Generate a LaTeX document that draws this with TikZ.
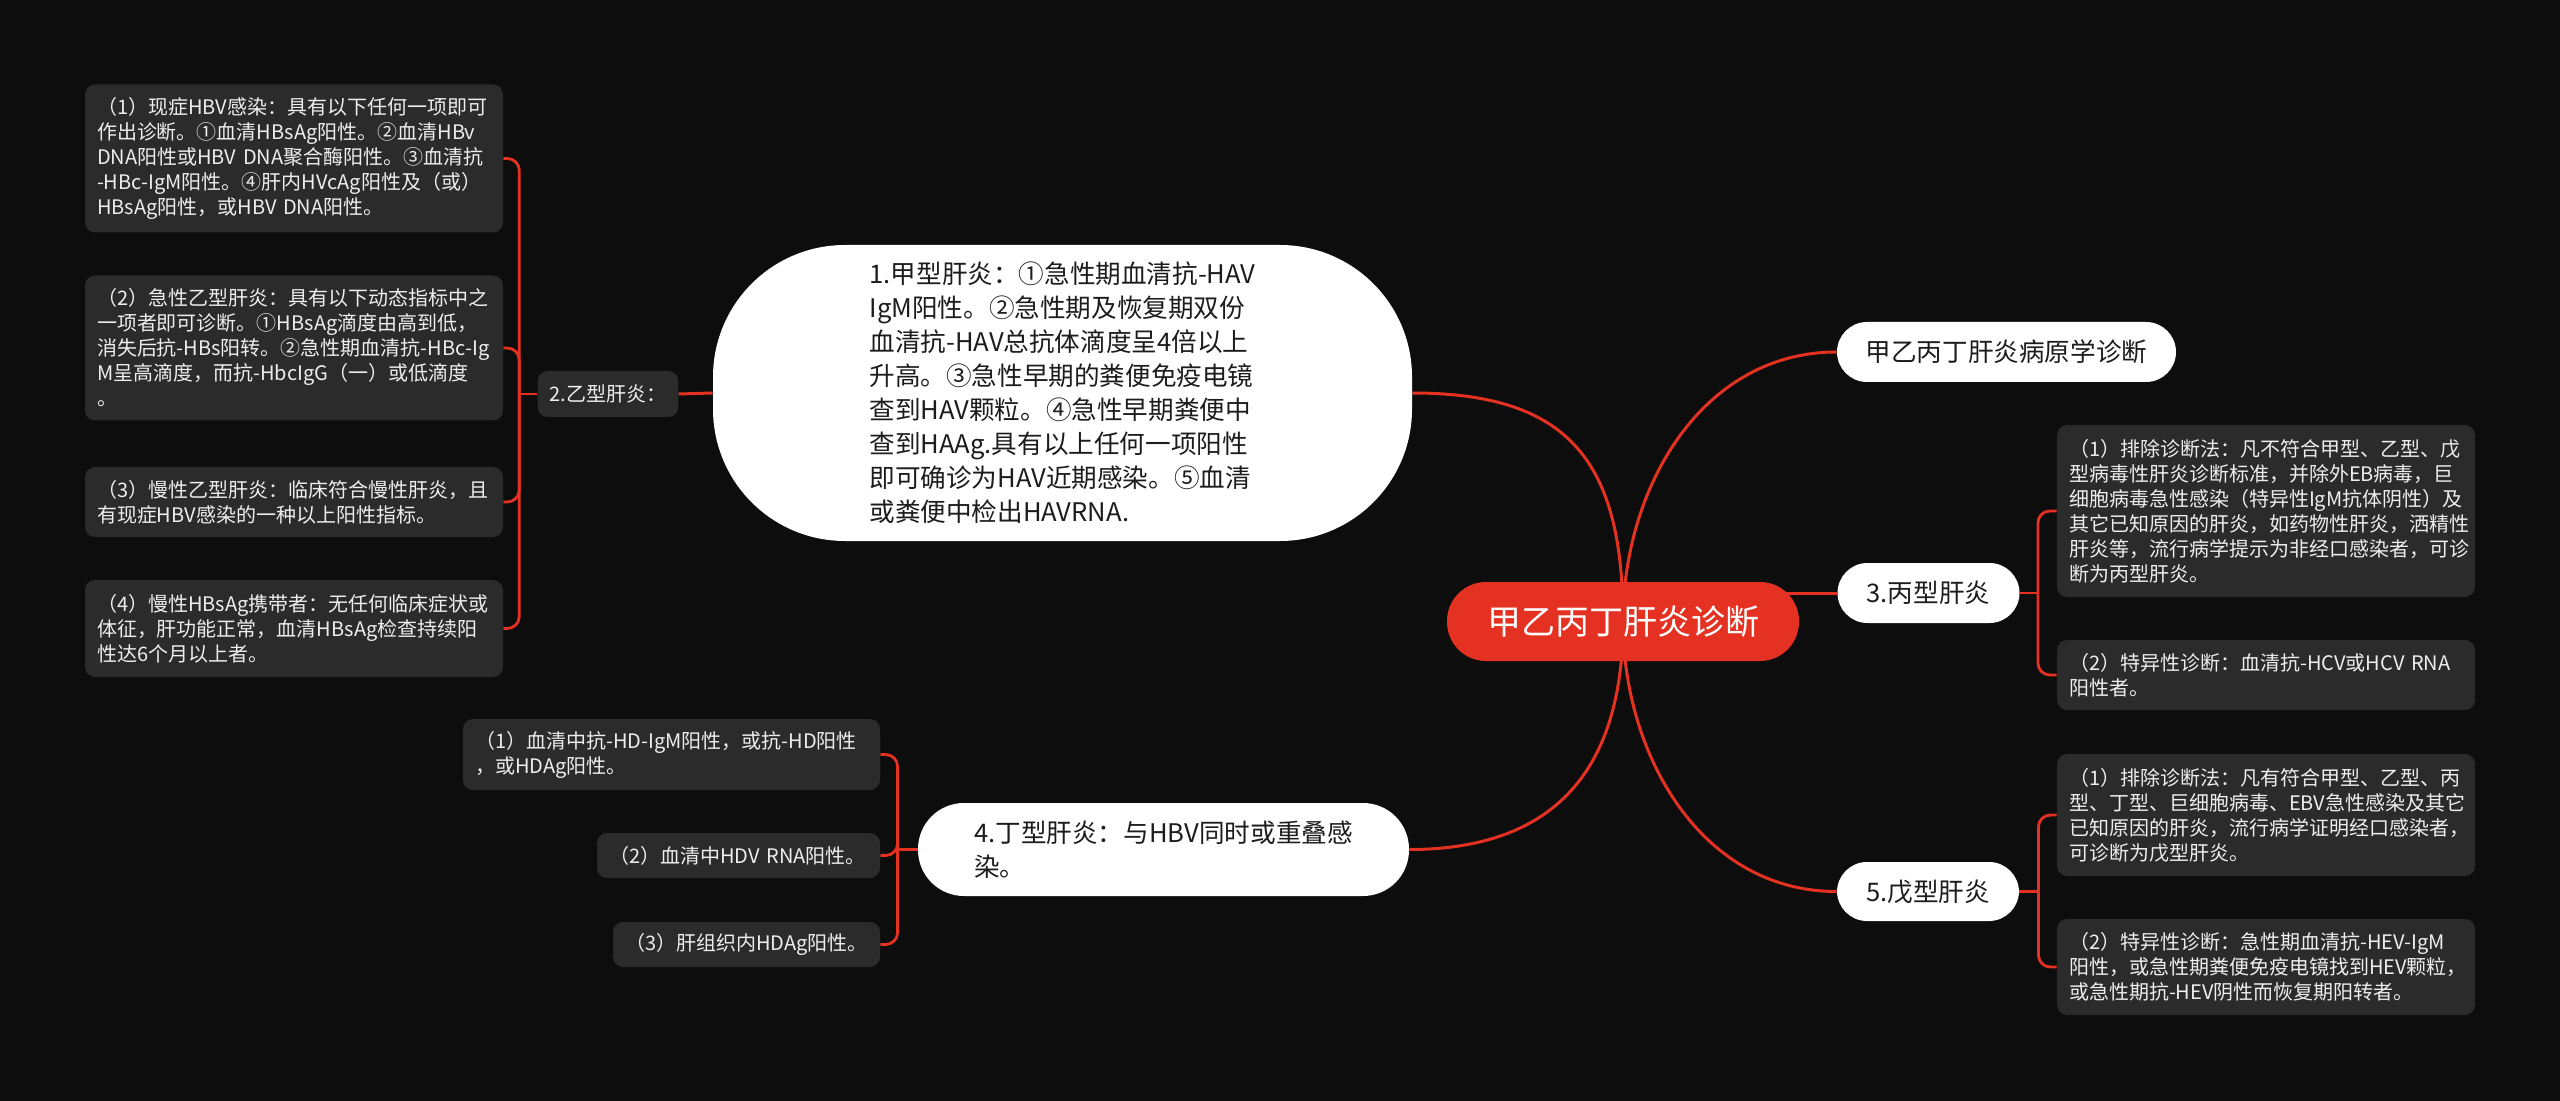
\documentclass[tikz,border=0pt]{standalone}
\usepackage{fontspec}
\setmainfont{Noto Sans CJK SC}
\definecolor{hbg}{RGB}{13,13,13}
\definecolor{hred}{RGB}{228,49,33}
\definecolor{hleaf}{RGB}{43,43,43}
\definecolor{hink}{RGB}{28,28,28}
\definecolor{hpaper}{RGB}{238,238,238}
\pgfdeclarelayer{back}
\pgfdeclarelayer{wires}
\pgfsetlayers{back,wires,main}
\tikzset{
  hub/.style={fill=hred, text=white, rounded corners=19.5pt, inner sep=0pt,
    font=\fontsize{17}{20}\selectfont},
  topic/.style={fill=white, text=hink, inner sep=0pt, align=left,
    font=\fontsize{12.8}{17}\selectfont},
  leaf/.style={fill=hleaf, text=hpaper, rounded corners=5pt, align=left,
    inner xsep=6pt, inner ysep=0pt, font=\fontsize{10}{12.5}\selectfont},
  wire/.style={hred, line width=1.5pt},
  twig/.style={hred, line width=1.4pt, rounded corners=6pt},
}

\begin{document}
\begin{tikzpicture}[x=0.5pt, y=-0.5pt]
  \useasboundingbox (0,0) rectangle (2560,1101);
  \begin{pgfonlayer}{back}
    \fill[hbg] (0,0) rectangle (2560,1101);
  \end{pgfonlayer}
  % centre
  \node[hub, minimum width=176pt, minimum height=39.5pt] (root) at (1623,621.5) {甲乙丙丁肝炎诊断};
  % right side
  \node[topic, rounded corners=15pt, minimum width=169.5pt, minimum height=30pt] (n0) at (2006.5,352) {甲乙丙丁肝炎病原学诊断};
  \node[topic, rounded corners=15pt, minimum width=91pt, minimum height=30pt] (n3) at (1928.5,593) {3.丙型肝炎};
  \node[topic, rounded corners=15pt, minimum width=91pt, minimum height=29.5pt] (n5) at (1928,891.5) {5.戊型肝炎};
  \node[leaf, text width=197pt, minimum height=86pt] (c1) at (2266,511) {（1）排除诊断法：凡不符合甲型、乙型、戊\\型病毒性肝炎诊断标准，并除外EB病毒，巨\\细胞病毒急性感染（特异性IgM抗体阴性）及\\其它已知原因的肝炎，如药物性肝炎，洒精性\\肝炎等，流行病学提示为非经口感染者，可诊\\断为丙型肝炎。};
  \node[leaf, text width=197pt, minimum height=35pt] (c2) at (2266,675) {（2）特异性诊断：血清抗-HCV或HCV~RNA\\阳性者。};
  \node[leaf, text width=197pt, minimum height=61pt] (e1) at (2266,815) {（1）排除诊断法：凡有符合甲型、乙型、丙\\型、丁型、巨细胞病毒、EBV急性感染及其它\\已知原因的肝炎，流行病学证明经口感染者，\\可诊断为戊型肝炎。};
  \node[leaf, text width=197pt, minimum height=48pt] (e2) at (2266,967) {（2）特异性诊断：急性期血清抗-HEV-IgM\\阳性，或急性期粪便免疫电镜找到HEV颗粒，\\或急性期抗-HEV阴性而恢复期阳转者。};
  % left side
  \node[topic, rounded corners=66pt, minimum width=349.5pt, minimum height=148pt] (n1) at (1062.5,393) {1.甲型肝炎：①急性期血清抗-HAV\\IgM阳性。②急性期及恢复期双份\\血清抗-HAV总抗体滴度呈4倍以上\\升高。③急性早期的粪便免疫电镜\\查到HAV颗粒。④急性早期粪便中\\查到HAAg.具有以上任何一项阳性\\即可确诊为HAV近期感染。⑤血清\\或粪便中检出HAVRNA.};
  \node[leaf, align=center, minimum width=68pt, minimum height=23pt] (n2) at (608,394) {2.乙型肝炎：};
  \node[leaf, text width=197pt, minimum height=74pt] (b1) at (294,158.5) {（1）现症HBV感染：具有以下任何一项即可\\作出诊断。①血清HBsAg阳性。②血清HBv\\DNA阳性或HBV~DNA聚合酶阳性。③血清抗\\-HBc-IgM阳性。④肝内HVcAg阳性及（或）\\HBsAg阳性，或HBV~DNA阳性。};
  \node[leaf, text width=197pt, minimum height=72.5pt] (b2) at (294,348) {（2）急性乙型肝炎：具有以下动态指标中之\\一项者即可诊断。①HBsAg滴度由高到低，\\消失后抗-HBs阳转。②急性期血清抗-HBc-Ig\\M呈高滴度，而抗-HbcIgG（一）或低滴度\\。};
  \node[leaf, text width=197pt, minimum height=35pt] (b3) at (294,502) {（3）慢性乙型肝炎：临床符合慢性肝炎，且\\有现症HBV感染的一种以上阳性指标。};
  \node[leaf, text width=197pt, minimum height=48.5pt] (b4) at (294,628.5) {（4）慢性HBsAg携带者：无任何临床症状或\\体征，肝功能正常，血清HBsAg检查持续阳\\性达6个月以上者。};
  \node[topic, rounded corners=23pt, minimum width=245.5pt, minimum height=46.5pt] (n4) at (1163.5,849.5) {4.丁型肝炎：与HBV同时或重叠感\\染。};
  \node[leaf, text width=196.5pt, minimum height=35.5pt] (d1) at (671.5,754.5) {（1）血清中抗-HD-IgM阳性，或抗-HD阳性\\，或HDAg阳性。};
  \node[leaf, text width=129.5pt, minimum height=22.5pt] (d2) at (738.5,855.5) {（2）血清中HDV~RNA阳性。};
  \node[leaf, text width=121.5pt, minimum height=22.5pt] (d3) at (746.5,944.5) {（3）肝组织内HDAg阳性。};

  \begin{pgfonlayer}{wires}
    % from the centre
    \draw[wire] (root.center) to[out=90, in=0, looseness=1.3] (n1.east);
    \draw[wire] (root.center) to[out=90, in=180] (n0.west);
    \draw[wire] (root.center |- n3.west) -- (n3.west);
    \draw[wire] (root.center) to[out=-90, in=180] (n5.west);
    \draw[wire] (root.center) to[out=-90, in=0, looseness=1.2] (n4.east);
    \draw[wire] (n1.west) -- (n2.east);
    % brackets
    \draw[twig] (n2.west) -- ++(-18,0) coordinate (t2);
    \foreach \b in {b1,b2,b3,b4}
      \draw[twig] (t2) |- (\b.east);
    \draw[twig] (n4.west) -- ++(-20,0) coordinate (t4);
    \foreach \d in {d1,d2,d3}
      \draw[twig] (t4) |- (\d.east);
    \draw[twig] (n3.east) -- ++(18,0) coordinate (t3);
    \foreach \c in {c1,c2}
      \draw[twig] (t3) |- (\c.west);
    \draw[twig] (n5.east) -- ++(19,0) coordinate (t5);
    \foreach \e in {e1,e2}
      \draw[twig] (t5) |- (\e.west);
  \end{pgfonlayer}
\end{tikzpicture}
\end{document}
